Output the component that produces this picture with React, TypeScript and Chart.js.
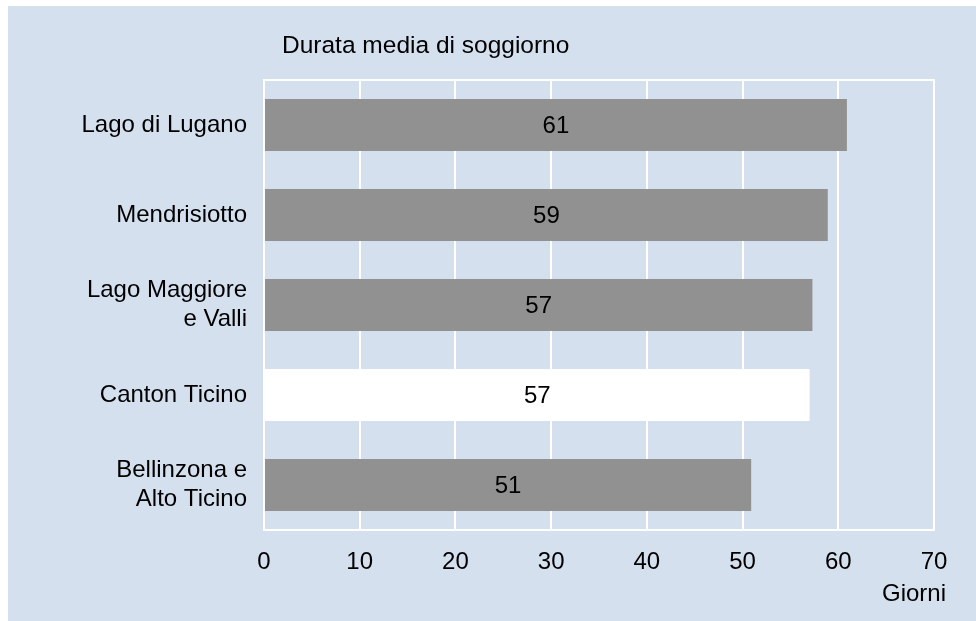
import React, { useEffect, useRef } from "react";
import { Chart, registerables } from "chart.js";

Chart.register(...registerables);

const categories: (string | string[])[] = [
  "Lago di Lugano",
  "Mendrisiotto",
  ["Lago Maggiore", "e Valli"],
  "Canton Ticino",
  ["Bellinzona e", "Alto Ticino"],
];
const values = [60.9, 58.9, 57.3, 57.0, 50.9];
const valueLabels = ["61", "59", "57", "57", "51"];
const barColors = ["#919191", "#919191", "#919191", "#ffffff", "#919191"];
const xTicks = [0, 10, 20, 30, 40, 50, 60, 70];
const titleText = "Durata media di soggiorno";
const unitText = "Giorni";

const FONT = '"Liberation Sans", Arial, Helvetica, sans-serif';
const BG = "#d5e0ee";

export default function App() {
  const ref = useRef<HTMLCanvasElement | null>(null);

  useEffect(() => {
    if (!ref.current) return;
    const framePlugin = {
      id: "frame",
      beforeDatasetsDraw(chart: any) {
        const { ctx, chartArea } = chart;
        ctx.save();
        ctx.strokeStyle = "#ffffff";
        ctx.lineWidth = 2;
        ctx.strokeRect(chartArea.left, chartArea.top, chartArea.right - chartArea.left, chartArea.bottom - chartArea.top);
        ctx.restore();
      },
      afterDatasetsDraw(chart: any) {
        const { ctx } = chart;
        const meta = chart.getDatasetMeta(0);
        ctx.save();
        ctx.font = `24px ${FONT}`;
        ctx.fillStyle = "#000000";
        ctx.textAlign = "center";
        ctx.textBaseline = "middle";
        meta.data.forEach((bar: any, i: number) => {
          const cx = (bar.x + bar.base) / 2;
          ctx.fillText(valueLabels[i], cx, bar.y + 1);
        });
        ctx.textAlign = "left";
        ctx.textBaseline = "alphabetic";
        ctx.font = `24.5px ${FONT}`;
        ctx.fillText(titleText, 274, 47);
        ctx.font = `24px ${FONT}`;
        ctx.textAlign = "right";
        ctx.fillText(unitText, 938, 595);
        ctx.restore();
      },
    };

    const chart = new Chart(ref.current, {
      type: "bar",
      data: {
        labels: categories,
        datasets: [
          {
            data: values,
            backgroundColor: barColors,
            borderWidth: 0,
            barPercentage: 0.578,
            categoryPercentage: 1,
          },
        ],
      },
      options: {
        indexAxis: "y",
        animation: false,
        responsive: false,
        maintainAspectRatio: false,
        layout: { padding: { top: 74, right: 42, bottom: 0, left: 0 } },
        plugins: {
          legend: { display: false },
          tooltip: { enabled: false },
          title: { display: false },
        },
        scales: {
          x: {
            min: 0,
            max: 70,
            afterBuildTicks(scale: any) {
              scale.ticks = xTicks.map((v) => ({ value: v }));
            },
            afterFit(scale: any) {
              scale.height = 91;
            },
            grid: { color: "#ffffff", lineWidth: 2, drawTicks: false },
            border: { display: false },
            ticks: {
              padding: 18,
              color: "#000000",
              font: { family: FONT, size: 24 },
              maxRotation: 0,
            },
          },
          y: {
            afterFit(scale: any) {
              scale.width = 256;
            },
            grid: { display: false, drawTicks: false },
            border: { display: false },
            ticks: {
              padding: 17,
              color: "#000000",
              font: { family: FONT, size: 24, lineHeight: 1.2 },
            },
          },
        },
      },
      plugins: [framePlugin],
    });
    return () => chart.destroy();
  }, []);

  return (
    <div
      style={{
        position: "absolute",
        left: 8,
        top: 6,
        width: 968,
        height: 615,
        background: BG,
      }}
    >
      <canvas ref={ref} width={968} height={615} style={{ display: "block", width: 968, height: 615 }} />
    </div>
  );
}
